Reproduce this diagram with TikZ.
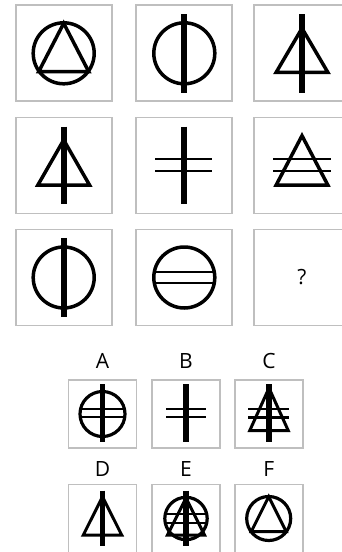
\documentclass[tikz,border=0pt]{standalone}
\usepackage{fontspec}
\setmainfont{Open Sans}
\tikzset{
  cell/.style={draw=black!25, line width=1.8pt, fill=white},
  ring/.style={draw=black, line width=3.5pt},
  tri/.style={draw=black, line width=3.5pt, line join=miter},
  bar/.style={draw=black, line width=6pt},
  hline/.style={draw=black, line width=2pt},
  sring/.style={draw=black, line width=3.2pt},
  stri/.style={draw=black, line width=3pt, line join=miter},
  sbar/.style={draw=black, line width=5.5pt},
  shline/.style={draw=black, line width=1.9pt},
  lbl/.style={font=\fontsize{21}{24}\selectfont, inner sep=0pt}
}
\begin{document}
\begin{tikzpicture}[x=1pt,y=-1pt]
\useasboundingbox (0,0) rectangle (341,552);
\fill[white] (0,0) rectangle (341,552);
% ---------- top grid ----------
% row 1
\begin{scope}[shift={(63.7,53.3)}]
  \draw[cell] (-48,-48) rectangle (48,48);
  \draw[ring] (0,0) circle (30.5);
  \draw[tri] (0,-30) -- (25,18.3) -- (-25,18.3) -- cycle;
\end{scope}
\begin{scope}[shift={(184.3,53.3)}]
  \draw[cell] (-48,-48) rectangle (48,48);
  \draw[ring] (0,0) circle (30.5);
  \draw[bar] (0,-39.3) -- (0,39.3);
\end{scope}
\begin{scope}[shift={(302,53.3)}]
  \draw[cell] (-48,-48) rectangle (48,48);
  \draw[tri] (0,-25) -- (25.8,19) -- (-25.8,19) -- cycle;
  \draw[bar] (0,-39.3) -- (0,39.3);
\end{scope}
% row 2
\begin{scope}[shift={(63.7,165.5)}]
  \draw[cell] (-48,-48) rectangle (48,48);
  \draw[tri] (0,-25.5) -- (25.8,19.5) -- (-25.8,19.5) -- cycle;
  \draw[bar] (0,-38.8) -- (0,38.8);
\end{scope}
\begin{scope}[shift={(184.3,165.5)}]
  \draw[cell] (-48,-48) rectangle (48,48);
  \draw[hline] (-29,-6.2) -- (28,-6.2);
  \draw[hline] (-29,5.2) -- (28,5.2);
  \draw[bar] (0,-38.8) -- (0,38.8);
\end{scope}
\begin{scope}[shift={(302,165.5)}]
  \draw[cell] (-48,-48) rectangle (48,48);
  \draw[tri] (0,-29.8) -- (25.8,19.5) -- (-25.8,19.5) -- cycle;
  \draw[hline] (-28.7,-6.2) -- (29,-6.2);
  \draw[hline] (-28.7,5.2) -- (29,5.2);
\end{scope}
% row 3
\begin{scope}[shift={(63.7,277.5)}]
  \draw[cell] (-48,-48) rectangle (48,48);
  \draw[ring] (0,0) circle (30.5);
  \draw[bar] (0,-39.7) -- (0,39.7);
\end{scope}
\begin{scope}[shift={(184.3,277.5)}]
  \draw[cell] (-48,-48) rectangle (48,48);
  \draw[ring] (0,0) circle (30.5);
  \draw[hline] (-29.5,-5.6) -- (29.5,-5.6);
  \draw[hline] (-29.5,5.4) -- (29.5,5.4);
\end{scope}
\begin{scope}[shift={(302,277.5)}]
  \draw[cell] (-48,-48) rectangle (48,48);
  \node[lbl] (q) at (0,0) {?};
\end{scope}
% ---------- answers ----------
\node[lbl] (la) at (102.5,361) {A};
\node[lbl] (lb) at (186,361) {B};
\node[lbl] (lc) at (269,361) {C};
\node[lbl] (ld) at (102.5,469) {D};
\node[lbl] (le) at (186,469) {E};
\node[lbl] (lf) at (268.7,469) {F};
% A
\begin{scope}[shift={(102.5,414)}]
  \draw[cell] (-34,-34) rectangle (34,34);
  \draw[sring] (0,0) circle (22.5);
  \draw[shline] (-21,-5) -- (21,-5);
  \draw[shline] (-21,3.3) -- (21,3.3);
  \draw[sbar] (0,-29.7) -- (0,27.7);
\end{scope}
% B
\begin{scope}[shift={(186,414)}]
  \draw[cell] (-34,-34) rectangle (34,34);
  \draw[shline] (-20,-5) -- (20,-5);
  \draw[shline] (-20,3.3) -- (20,3.3);
  \draw[sbar] (0,-29.7) -- (0,27.7);
\end{scope}
% C
\begin{scope}[shift={(269,414)}]
  \draw[cell] (-34,-34) rectangle (34,34);
  \draw[stri] (0,-26) -- (19.3,16.7) -- (-19.3,16.7) -- cycle;
  \draw[shline, line width=2.6pt] (-21,-5) -- (20.3,-5);
  \draw[shline, line width=2.6pt] (-21,3.3) -- (20.3,3.3);
  \draw[sbar] (0,-29.7) -- (0,27.7);
\end{scope}
% D
\begin{scope}[shift={(102.5,518.5)}]
  \draw[cell] (-34,-34) rectangle (34,34);
  \draw[stri] (0,-21.8) -- (19.2,16.5) -- (-19.2,16.5) -- cycle;
  \draw[sbar] (0,-27.8) -- (0,27.5);
\end{scope}
% E
\begin{scope}[shift={(186,518.5)}]
  \draw[cell] (-34,-34) rectangle (34,34);
  \draw[sring] (0,0) circle (21.2);
  \draw[shline] (-20.5,-4.5) -- (20.5,-4.5);
  \draw[shline] (-20.5,4.8) -- (20.5,4.8);
  \draw[stri] (0,-20.5) -- (18.5,16.5) -- (-18.5,16.5) -- cycle;
  \draw[sbar] (0,-27.8) -- (0,27.5);
\end{scope}
% F
\begin{scope}[shift={(268.7,518.5)}]
  \draw[cell] (-34,-34) rectangle (34,34);
  \draw[sring] (0,0) circle (22);
  \draw[stri] (0,-21.8) -- (17.5,13.2) -- (-17.5,13.2) -- cycle;
\end{scope}
\end{tikzpicture}
\end{document}
